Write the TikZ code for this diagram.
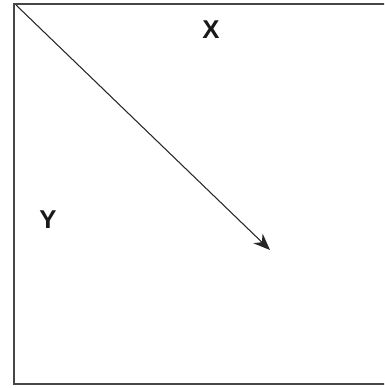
\documentclass[tikz,border=0pt]{standalone}
\usepackage{fontspec}
\setmainfont{Liberation Sans}
\usetikzlibrary{arrows.meta}
\definecolor{framegrey}{RGB}{70,70,70}
\tikzset{
  frame/.style={draw=framegrey,line width=1.6pt},
  vec/.style={-{Stealth[length=5mm,width=4mm]},draw=black!85,line width=.9pt},
  axislbl/.style={font=\fontsize{22}{24}\selectfont\bfseries,text=black!90,inner sep=0pt},
}
\begin{document}
\begin{tikzpicture}[x=0.03cm,y=-0.03cm]
  \useasboundingbox (0,0) rectangle (384,388);
  \clip (0,0) rectangle (384,388);
  \draw[frame] (14,4) rectangle (392,384);
  \coordinate (tl) at (16,5);
  \coordinate (tip) at (270,250);
  \draw[vec] (tl) -- (tip);
  \node[axislbl] (lblx) at (211,30) {X};
  \node[axislbl] (lbly) at (48,220) {Y};
\end{tikzpicture}
\end{document}
